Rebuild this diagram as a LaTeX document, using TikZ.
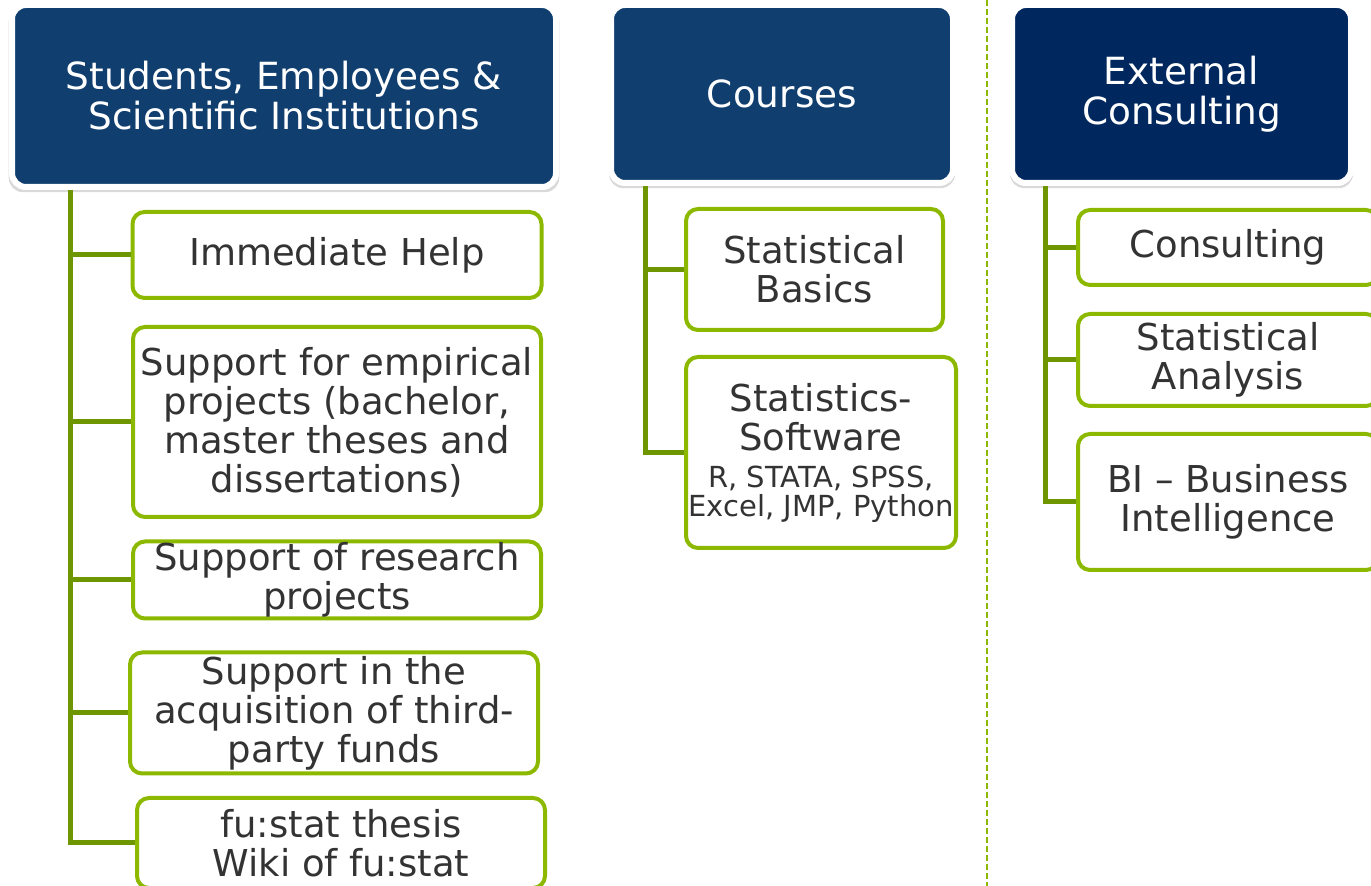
\documentclass[tikz,border=0pt]{standalone}
\usepackage{fontspec}
\setmainfont{DejaVu Sans}
\usetikzlibrary{shadows}

\definecolor{fuBlue}{RGB}{16,62,110}
\definecolor{fuNavy}{RGB}{0,40,94}
\definecolor{fuGreen}{RGB}{140,185,0}
\definecolor{fuTrunk}{RGB}{110,150,0}
\definecolor{fuText}{RGB}{51,51,51}

\tikzset{
	head/.style={draw=white, line width=3pt, rounded corners=7pt, fill=fuBlue, text=white,
		align=center, inner sep=0pt, font=\fontsize{18.7}{20}\selectfont,
		drop shadow={shadow xshift=0pt, shadow yshift=-2pt, shadow scale=1.012, opacity=0.3}},
	item/.style={draw=fuGreen, line width=2pt, rounded corners=6pt, fill=white, text=fuText,
		align=center, inner sep=0pt, font=\fontsize{18.5}{19.5}\selectfont},
	branch/.style={draw=fuTrunk, line width=2.5pt},
}
\newcommand{\softlist}{\fontsize{14.5}{15}\selectfont}

\begin{document}
\begin{tikzpicture}[x=0.5pt,y=-0.5pt]
		\useasboundingbox (0,0) rectangle (1371,886);
		\clip (0,0) rectangle (1371,886);
		% separator
		\draw[fuGreen, line width=1pt, dash pattern=on 3pt off 1.5pt] (987,0) -- (987,886);
		% headers
		\node[head, minimum width=272pt, minimum height=91pt] (h1) at (284,96) {Students, Employees \&\\Scientific Institutions};
		\node[head, minimum width=171pt, minimum height=89pt] (h2) at (782,94) {Courses};
		\node[head, fill=fuNavy, minimum width=169.5pt, minimum height=89pt] (h3) at (1181.5,94) {External\\Consulting};
		% students column
		\node[item, minimum width=204.5pt, minimum height=43pt] (help) at (337,255) {Immediate Help};
		\node[item, minimum width=204pt, minimum height=95pt] (empirical) at (337,422) {Support for empirical\\projects (bachelor,\\master theses and\\dissertations)};
		\node[item, minimum width=204pt, minimum height=38.5pt] (research) at (337,580) {Support of research\\projects};
		\node[item, minimum width=204pt, minimum height=60.5pt] (funds) at (334,713) {Support in the\\acquisition of third-\\party funds};
		\node[item, minimum width=204pt, minimum height=45pt] (wiki) at (341,843) {fu:stat thesis\\Wiki of fu:stat};
		% courses column
		\node[item, minimum width=135pt, minimum height=95.5pt] (software) at (821,452.5) {Statistics-\\Software\\[-1pt]\softlist R, STATA, SPSS,\\[-5pt]\softlist Excel, JMP, Python};
		\node[item, minimum width=128.5pt, minimum height=60.5pt] (basics) at (814.5,269.5) {Statistical\\Basics};
		% consulting column
		\node[item, minimum width=150pt, minimum height=37.5pt] (consult) at (1228,247.5) {Consulting};
		\node[item, minimum width=150pt, minimum height=46pt] (analysis) at (1228,360) {Statistical\\Analysis};
		\node[item, minimum width=150pt, minimum height=68pt] (bi) at (1228,502) {BI – Business\\Intelligence};
		% trunks
		\path (h1.south) ++(-214,0) coordinate (t1);
		\path (h2.south) ++(-137,0) coordinate (t2);
		\path (h3.south) ++(-136.5,0) coordinate (t3);
		\draw[branch] (t1) |- (wiki.west);
		\foreach \n in {help,empirical,research,funds}
			\draw[branch] (t1 |- \n.west) -- (\n.west);
		\draw[branch] (t2) |- (software.west);
		\draw[branch] (t2 |- basics.west) -- (basics.west);
		\draw[branch] (t3) |- (bi.west);
		\foreach \n in {consult,analysis}
			\draw[branch] (t3 |- \n.west) -- (\n.west);
	\end{tikzpicture}
\end{document}
